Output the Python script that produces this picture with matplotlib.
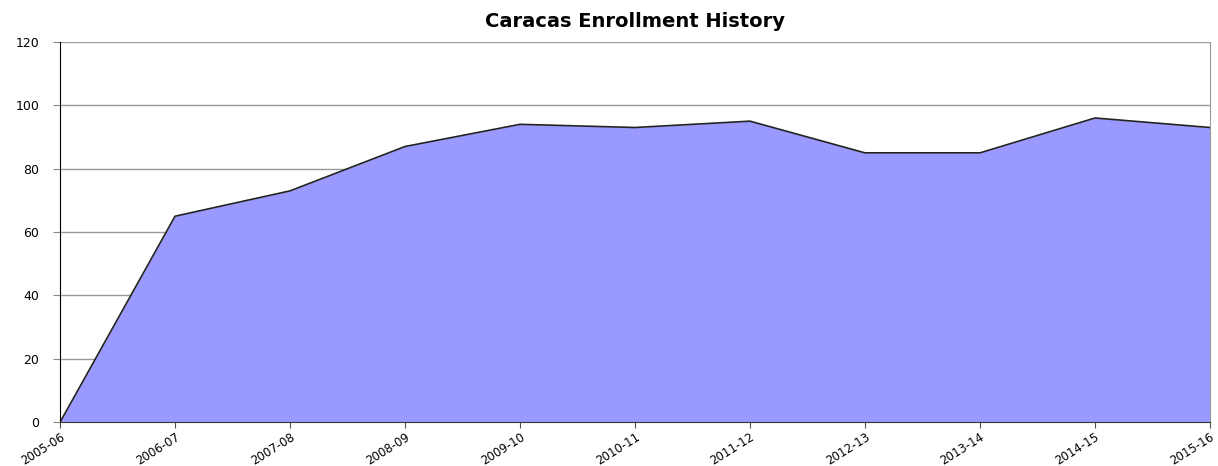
import matplotlib
matplotlib.use("Agg")
import matplotlib.pyplot as plt

years = ["2005-06", "2006-07", "2007-08", "2008-09", "2009-10", "2010-11",
         "2011-12", "2012-13", "2013-14", "2014-15", "2015-16"]
enrollment = [0, 65, 73, 87, 94, 93, 95, 85, 85, 96, 93]

plt.rcParams["font.family"] = ["DejaVu Sans"]

fig = plt.figure(figsize=(12.18, 4.66), dpi=100)
ax = fig.add_axes([0.0493, 0.094, 0.9441, 0.816])

x = list(range(len(years)))
ax.fill_between(x, enrollment, 0, color="#9999FF", linewidth=0)
ax.plot(x, enrollment, color="#222222", linewidth=1.2)

ax.set_xlim(0, len(years) - 1)
ax.set_ylim(0, 120)
ax.set_yticks(range(0, 121, 20))
ax.set_xticks(x)
ax.set_xticklabels(years, rotation=32, ha="right", va="top",
                   rotation_mode="anchor", fontsize=8.5)
ax.tick_params(axis="y", labelsize=9, length=5, direction="out",
               color="#888888", pad=10)
ax.tick_params(axis="x", length=4, direction="out", color="#555555", pad=2)

ax.grid(axis="y", color="#999999", linewidth=1)
ax.set_axisbelow(True)
ax.spines["top"].set_visible(False)
ax.spines["right"].set_color("#999999")
ax.spines["left"].set_color("black")
ax.spines["bottom"].set_color("#333333")

ax.set_title("Caracas Enrollment History", fontsize=14, fontweight="bold",
             pad=11)

fig.savefig("out.png", dpi=100)
